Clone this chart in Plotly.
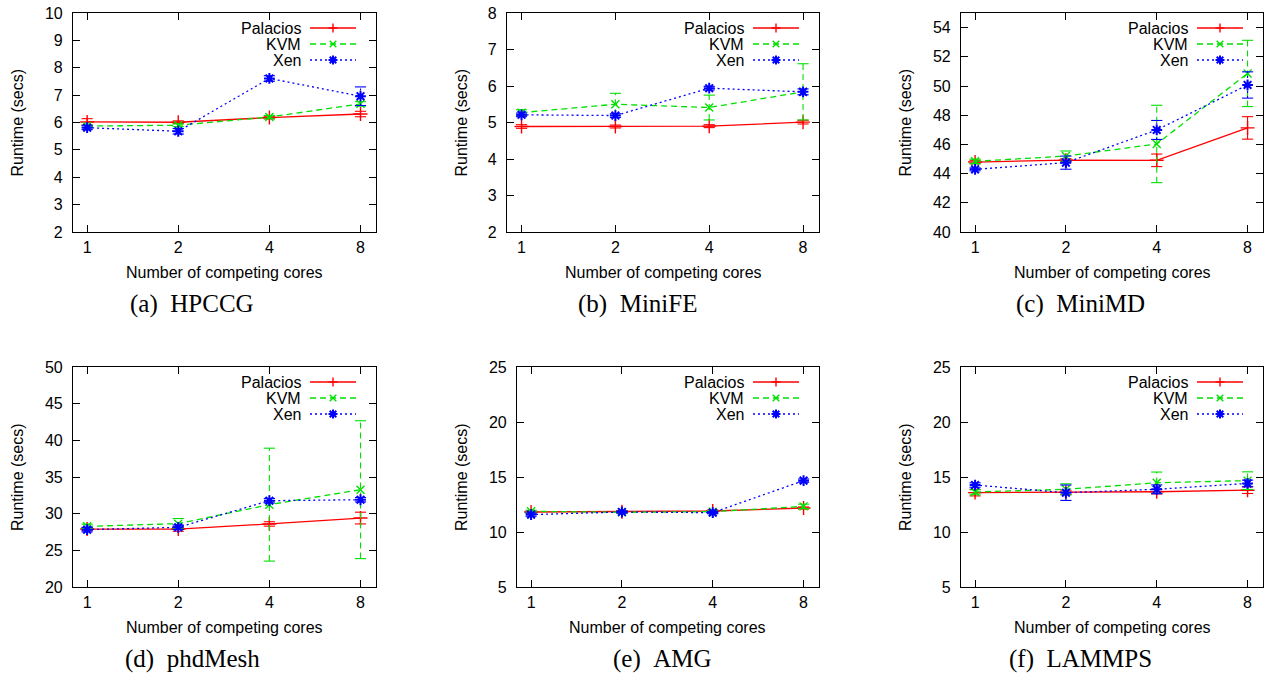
import math
import plotly.graph_objects as go

# ---------------- data ----------------
cores = [1, 2, 4, 8]
tick_text = ["1", "2", "4", "8"]
series_names = ["Palacios", "KVM", "Xen"]

hpccg_pal = [6.02, 6.01, 6.18, 6.31]
hpccg_pal_err = [0.12, 0.05, 0.05, 0.10]
hpccg_kvm = [5.87, 5.90, 6.20, 6.68]
hpccg_kvm_err = [0.05, 0.05, 0.06, 0.08]
hpccg_xen = [5.81, 5.68, 7.61, 6.96]
hpccg_xen_err = [0.07, 0.10, 0.10, 0.34]

minife_pal = [4.89, 4.89, 4.90, 5.01]
minife_pal_err = [0.05, 0.04, 0.04, 0.05]
minife_kvm = [5.27, 5.50, 5.41, 5.84]
minife_kvm_err = [0.08, 0.30, 0.34, 0.77]
minife_xen = [5.21, 5.19, 5.94, 5.84]
minife_xen_err = [0.05, 0.05, 0.05, 0.08]

minimd_pal = [44.79, 44.92, 44.91, 47.13]
minimd_pal_err = [0.12, 0.10, 0.43, 0.77]
minimd_kvm = [44.84, 45.20, 46.03, 50.86]
minimd_kvm_err = [0.15, 0.35, 2.65, 2.27]
minimd_xen = [44.29, 44.75, 46.99, 50.07]
minimd_xen_err = [0.10, 0.45, 0.65, 0.90]

phd_pal = [27.90, 27.90, 28.60, 29.40]
phd_pal_err = [0.20, 0.30, 0.30, 0.80]
phd_kvm = [28.27, 28.64, 31.23, 33.27]
phd_kvm_err = [0.30, 0.70, 7.70, 9.40]
phd_xen = [27.82, 28.14, 31.77, 31.90]
phd_xen_err = [0.30, 0.30, 0.30, 0.30]

amg_pal = [11.82, 11.85, 11.91, 12.18]
amg_pal_err = [0.10, 0.10, 0.10, 0.10]
amg_kvm = [11.88, 11.79, 11.85, 12.33]
amg_kvm_err = [0.10, 0.10, 0.10, 0.20]
amg_xen = [11.58, 11.82, 11.76, 14.67]
amg_xen_err = [0.15, 0.10, 0.10, 0.15]

lmp_pal = [13.58, 13.60, 13.66, 13.80]
lmp_pal_err = [0.30, 0.20, 0.20, 0.30]
lmp_kvm = [13.64, 13.88, 14.48, 14.67]
lmp_kvm_err = [0.20, 0.50, 0.97, 0.80]
lmp_xen = [14.27, 13.57, 13.88, 14.42]
lmp_xen_err = [0.20, 0.70, 0.40, 0.30]

captions = ["(a)\u2002HPCCG", "(b)\u2002MiniFE", "(c)\u2002MiniMD",
            "(d)\u2002phdMesh", "(e)\u2002AMG", "(f)\u2002LAMMPS"]
y_ranges = [[2, 10], [2, 8], [40, 55], [20, 50], [5, 25], [5, 25]]
y_ticks = [list(range(2, 11)), list(range(2, 9)), list(range(40, 55, 2)),
           list(range(20, 51, 5)), list(range(5, 26, 5)), list(range(5, 26, 5))]

panels = [
    (hpccg_pal, hpccg_pal_err, hpccg_kvm, hpccg_kvm_err, hpccg_xen, hpccg_xen_err),
    (minife_pal, minife_pal_err, minife_kvm, minife_kvm_err, minife_xen, minife_xen_err),
    (minimd_pal, minimd_pal_err, minimd_kvm, minimd_kvm_err, minimd_xen, minimd_xen_err),
    (phd_pal, phd_pal_err, phd_kvm, phd_kvm_err, phd_xen, phd_xen_err),
    (amg_pal, amg_pal_err, amg_kvm, amg_kvm_err, amg_xen, amg_xen_err),
    (lmp_pal, lmp_pal_err, lmp_kvm, lmp_kvm_err, lmp_xen, lmp_xen_err),
]

# ---------------- layout geometry (pixels) ----------------
W, H = 1271, 675
# plot boxes: (left, right, top, bottom)
boxes = [(73, 376, 13, 232), (507, 819, 13, 232), (961, 1263, 13, 232),
         (73, 376, 367, 587), (517, 819, 367, 587), (961, 1263, 367, 587)]
ytitle_x = [17, 461, 905, 17, 461, 905]
xtitle_y = [273, 273, 273, 627, 627, 627]
caption_pos = [(192, 304), (637, 304), (1080, 304), (192, 659), (662, 659), (1080, 659)]

COLORS = ["#ff0000", "#00e000", "#0000ff"]
DASHES = ["solid", "6px,4px", "2px,3px"]
SYMBOLS = ["cross-thin", "x-thin", "asterisk"]
MSIZE = [10, 8, 9]
MLW = [1.4, 1.4, 2.0]
FONT = "Liberation Sans, Arial, sans-serif"
SERIF = "Liberation Serif, Times New Roman, serif"

fig = go.Figure()
l2 = math.log10(2)
xr = [-0.155 * l2, 3.17 * l2]

shapes = []
annotations = []

for i, vals in enumerate(panels):
    n = "" if i == 0 else str(i + 1)
    xa, ya = "x" + n, "y" + n
    for s in range(3):
        y = vals[2 * s]
        e = vals[2 * s + 1]
        # error bars: vertical segments in the series' dash style
        ex, ey = [], []
        for c, v, d in zip(cores, y, e):
            ex += [c, c, None]
            ey += [v - d, v + d, None]
        fig.add_trace(go.Scatter(
            x=ex, y=ey, xaxis=xa, yaxis=ya, mode="lines", showlegend=False,
            hoverinfo="skip", connectgaps=False,
            line=dict(color=COLORS[s], width=1.1, dash=DASHES[s])))
        # error bar caps
        fig.add_trace(go.Scatter(
            x=cores + cores, y=[v - d for v, d in zip(y, e)] + [v + d for v, d in zip(y, e)],
            xaxis=xa, yaxis=ya, mode="markers", showlegend=False, hoverinfo="skip",
            marker=dict(symbol="line-ew", size=8, color=COLORS[s],
                        line=dict(color=COLORS[s], width=1.1))))
        # main line with points
        fig.add_trace(go.Scatter(
            x=cores, y=y, xaxis=xa, yaxis=ya, mode="lines+markers",
            name=series_names[s], showlegend=False,
            line=dict(color=COLORS[s], width=1.3, dash=DASHES[s]),
            marker=dict(symbol=SYMBOLS[s], size=MSIZE[s], color=COLORS[s],
                        line=dict(color=COLORS[s], width=MLW[s])),
        ))
    L, R, T, B = boxes[i]
    ax = dict(domain=[L / W, R / W], type="log", range=xr, tickvals=cores,
              ticktext=tick_text, ticks="inside", ticklen=7, tickwidth=1,
              tickcolor="black", showline=True, linecolor="black", linewidth=1.2,
              mirror="ticks", showgrid=False, zeroline=False, automargin=False,
              tickfont=dict(family=FONT, size=16, color="black"),
              ticklabelstandoff=1, anchor=ya)
    ay = dict(domain=[1 - B / H, 1 - T / H], range=y_ranges[i], tickvals=y_ticks[i],
              ticks="inside", ticklen=7, tickwidth=1, tickcolor="black",
              showline=True, linecolor="black", linewidth=1.2, mirror="ticks",
              showgrid=False, zeroline=False, automargin=False,
              tickfont=dict(family=FONT, size=16, color="black"),
              ticklabelstandoff=6, anchor=xa)
    fig.layout["xaxis" + n] = ax
    fig.layout["yaxis" + n] = ay

    # axis titles
    annotations.append(dict(text="Runtime (secs)", x=ytitle_x[i] / W, y=1 - (T + B) / 2 / H,
                            xref="paper", yref="paper", textangle=-90, showarrow=False,
                            xanchor="center", yanchor="middle",
                            font=dict(family=FONT, size=16, color="black")))
    annotations.append(dict(text="Number of competing cores", x=(L + R) / 2 / W,
                            y=1 - xtitle_y[i] / H, xref="paper", yref="paper",
                            showarrow=False, xanchor="center", yanchor="middle",
                            font=dict(family=FONT, size=16, color="black")))
    cx, cy = caption_pos[i]
    annotations.append(dict(text=captions[i], x=cx / W, y=1 - cy / H, xref="paper",
                            yref="paper", showarrow=False, xanchor="center",
                            yanchor="middle", font=dict(family=SERIF, size=25, color="black")))

    # legend (gnuplot style: text left, sample right)
    xd, yd = xa + " domain", ya + " domain"
    for s in range(3):
        dy = -(15 + 16 * s)
        annotations.append(dict(text=series_names[s], xref=xd, yref=yd, x=1, y=1,
                                xshift=-73, yshift=dy, xanchor="right", yanchor="middle",
                                showarrow=False,
                                font=dict(family=FONT, size=16, color="black")))
        shapes.append(dict(type="line", xref=xd, yref=yd, xsizemode="pixel",
                           ysizemode="pixel", xanchor=1, yanchor=1,
                           x0=-66, x1=-20, y0=dy, y1=dy,
                           line=dict(color=COLORS[s], width=1.3, dash=DASHES[s])))
        h = 4.5
        d = 3.3
        if s == 0:
            segs = [(-h, 0, h, 0), (0, -h, 0, h)]
        elif s == 1:
            segs = [(-d, -d, d, d), (-d, d, d, -d)]
        else:
            segs = [(-h, 0, h, 0), (0, -h, 0, h), (-d, -d, d, d), (-d, d, d, -d)]
        for (a0, b0, a1, b1) in segs:
            shapes.append(dict(type="line", xref=xd, yref=yd, xsizemode="pixel",
                               ysizemode="pixel", xanchor=1, yanchor=1,
                               x0=-43 + a0, x1=-43 + a1, y0=dy + b0, y1=dy + b1,
                               line=dict(color=COLORS[s], width=MLW[s])))

fig.update_layout(width=W, height=H, autosize=False,
                  margin=dict(l=0, r=0, t=0, b=0, pad=0, autoexpand=False),
                  paper_bgcolor="white", plot_bgcolor="white", showlegend=False,
                  shapes=shapes, annotations=annotations,
                  font=dict(family=FONT, size=16, color="black"))

fig.write_html("out.html",
               config={"responsive": False, "displayModeBar": False},
               post_script="document.body.style.margin='0px';"
                           "document.body.style.overflow='hidden';")
